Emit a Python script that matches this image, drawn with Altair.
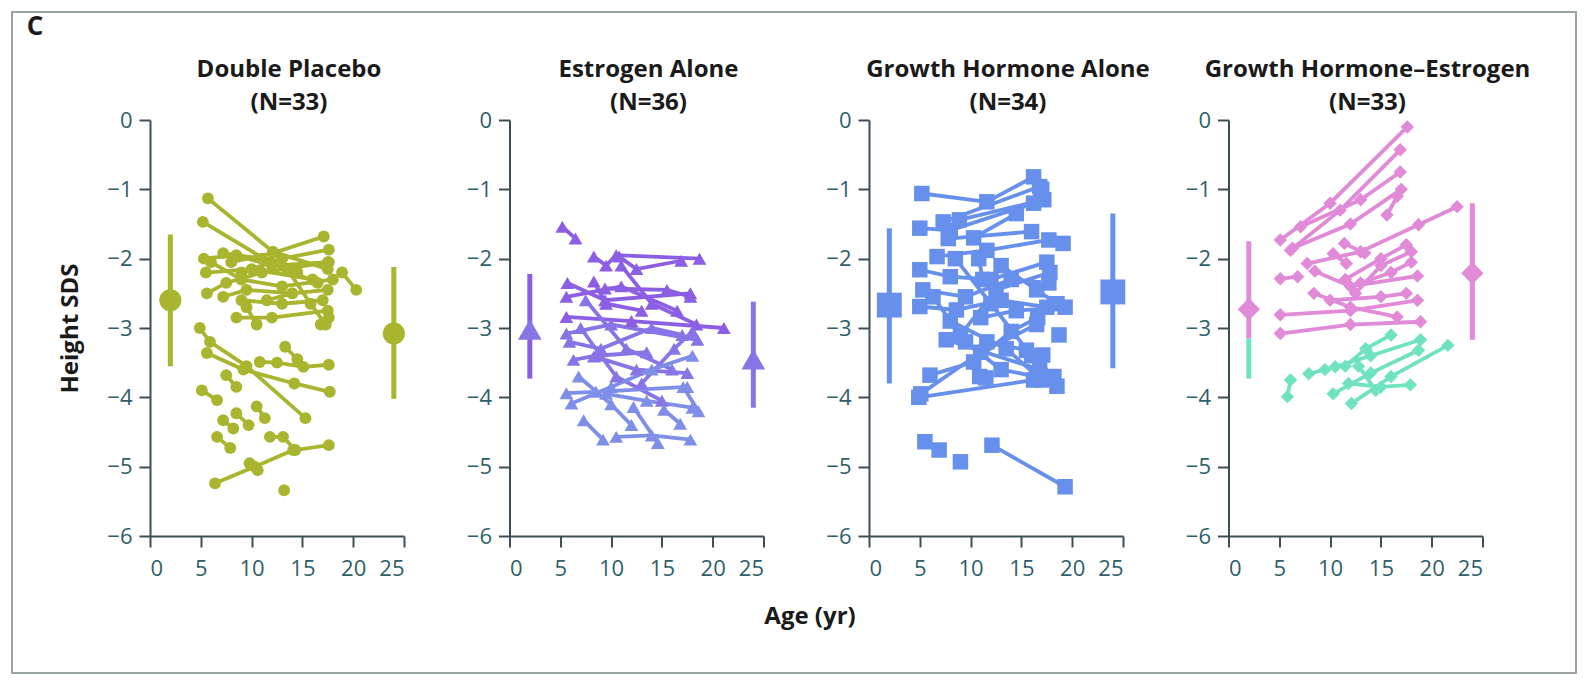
import altair as alt
import pandas as pd

FONT = "Open Sans"

# ---------------- data (age in years, height SDS) ----------------
placebo_lines = [
    [(5.7, -1.13), (12.1, -1.9), (17.5, -2.15)],
    [(5.2, -1.47), (11.8, -2.05), (16.5, -2.35)],
    [(8.0, -2.05), (12.1, -1.92), (17.1, -1.68)],
    [(9.0, -2.2), (13.0, -2.0), (17.6, -1.87)],
    [(18.9, -2.2), (20.3, -2.45)],
    [(5.3, -2.0), (8.5, -1.95), (12.0, -2.1), (17.5, -2.05)],
    [(5.5, -2.2), (10.0, -2.15), (16.0, -2.3)],
    [(5.6, -2.5), (7.5, -2.35), (11.0, -2.2), (17.6, -2.05)],
    [(6.0, -2.05), (9.0, -2.3), (13.0, -2.4), (18.0, -2.3)],
    [(7.2, -1.92), (11.0, -2.0), (14.5, -2.2)],
    [(8.5, -2.85), (12.0, -2.85), (17.5, -2.75)],
    [(9.0, -2.6), (13.0, -2.65), (17.0, -2.6)],
    [(7.2, -2.55), (9.5, -2.45), (14.0, -2.5)],
    [(11.5, -2.6), (14.0, -2.5), (17.5, -2.45)],
    [(16.8, -2.95), (17.6, -2.85)],
    [(9.5, -2.7), (10.5, -2.95)],
    [(13.5, -2.15), (15.8, -2.65), (17.3, -2.95)],
    [(4.9, -3.0), (5.9, -3.2), (9.5, -3.55), (15.3, -4.3)],
    [(5.6, -3.36), (9.2, -3.6), (14.2, -3.8), (17.7, -3.92)],
    [(10.8, -3.49), (12.5, -3.5), (15.1, -3.56), (17.6, -3.53)],
    [(13.3, -3.27), (14.5, -3.45)],
    [(7.5, -3.68), (8.5, -3.85)],
    [(5.1, -3.9), (6.6, -4.04)],
    [(7.2, -4.33), (8.2, -4.45)],
    [(8.5, -4.23), (9.7, -4.4)],
    [(10.5, -4.13), (11.3, -4.3)],
    [(6.6, -4.57), (7.9, -4.73)],
    [(11.8, -4.57), (13.1, -4.57), (14.3, -4.76), (17.6, -4.69)],
    [(6.4, -5.24), (10.3, -5.0), (14.1, -4.76)],
    [(13.2, -5.34)],
    [(9.8, -4.95), (10.6, -5.05)],
]

estrogen_lines = [
    [(5.2, -1.54), (6.5, -1.71)],
    [(8.3, -1.97), (9.5, -2.1), (10.5, -1.95), (18.7, -2.0)],
    [(10.8, -1.97), (12.5, -2.15), (16.9, -2.03)],
    [(5.7, -2.35), (9.4, -2.6), (17.8, -2.5)],
    [(8.3, -2.33), (9.5, -2.65), (13.0, -2.75)],
    [(9.4, -2.43), (15.5, -2.45), (17.8, -2.55)],
    [(5.6, -2.55), (11.0, -2.4), (16.5, -2.75)],
    [(5.6, -2.84), (12.0, -2.9), (21.1, -3.0)],
    [(5.6, -3.08), (10.0, -2.95), (18.5, -3.17)],
    [(5.9, -3.2), (9.0, -3.3), (14.0, -3.0), (17.0, -3.1)],
    [(11.0, -2.1), (14.0, -2.65), (18.4, -2.95)],
    [(7.5, -2.6), (11.5, -3.3), (16.0, -3.6)],
    [(6.3, -3.46), (8.5, -3.4), (13.5, -3.35)],
    [(8.3, -3.41), (12.5, -3.6), (17.5, -3.65)],
    [(7.0, -3.0), (10.5, -3.7), (15.0, -4.05)],
    [(13.0, -3.8), (16.2, -3.3), (18.0, -3.05)],
    [(5.6, -3.94), (8.5, -3.92), (17.5, -3.85)],
    [(6.1, -4.09), (10.0, -3.85), (14.0, -3.6), (18.0, -3.4)],
    [(9.5, -3.95), (13.5, -4.05), (18.0, -4.15)],
    [(6.8, -3.7), (10.0, -4.1), (12.0, -4.4)],
    [(17.1, -3.85), (18.6, -4.2)],
    [(7.3, -4.33), (9.2, -4.61)],
    [(10.5, -4.57), (14.0, -4.55), (17.8, -4.61)],
    [(12.2, -4.14), (14.6, -4.66)],
    [(15.2, -4.18), (16.8, -4.38)],
]
estrogen_tone = [0, 0, 0, 0, 0, 0, 0, 0, 1, 1, 0, 1, 1, 1, 1, 1, 2, 2, 2, 2, 2, 2, 2, 2, 2]

gh_lines = [
    [(5.2, -1.06), (11.6, -1.18), (16.2, -0.82)],
    [(5.0, -1.56), (8.0, -1.59), (16.2, -1.2)],
    [(7.3, -1.47), (16.8, -0.96)],
    [(8.9, -1.44), (17.2, -1.15)],
    [(7.8, -1.71), (16.0, -1.61)],
    [(10.3, -1.7), (14.5, -1.35), (17.0, -1.0)],
    [(6.7, -1.97), (11.6, -1.88), (17.7, -1.73), (19.1, -1.78)],
    [(5.0, -2.16), (8.0, -2.26), (12.0, -2.3), (17.5, -2.05)],
    [(10.8, -2.0), (11.2, -2.3)],
    [(5.3, -2.45), (9.5, -2.55), (14.0, -2.3), (17.7, -2.35)],
    [(5.0, -2.69), (8.6, -2.74), (13.0, -2.6), (17.5, -2.7)],
    [(13.0, -2.1), (16.5, -2.45), (18.5, -2.65)],
    [(8.5, -2.0), (12.0, -2.65), (16.0, -3.4), (18.2, -3.7)],
    [(11.0, -2.85), (14.5, -2.75), (19.3, -2.7)],
    [(9.0, -3.1), (12.5, -2.45), (17.8, -2.2)],
    [(8.0, -2.9), (13.5, -3.3), (17.0, -3.75)],
    [(6.3, -2.55), (9.5, -3.2), (13.0, -3.6), (16.5, -3.7)],
    [(7.6, -3.17), (16.8, -3.6)],
    [(11.6, -3.2), (15.5, -3.32)],
    [(6.0, -3.68), (10.3, -3.49), (14.0, -3.05), (16.6, -2.85)],
    [(4.9, -4.0), (16.2, -3.75), (18.5, -3.84)],
    [(5.1, -3.95), (11.0, -3.35), (16.5, -2.95)],
    [(10.9, -3.7), (11.5, -3.72)],
    [(17.1, -3.39)],
    [(18.7, -3.1)],
    [(5.5, -4.64), (6.9, -4.76)],
    [(9.0, -4.93)],
    [(12.1, -4.69), (19.3, -5.29)],
]

ghe_pink_lines = [
    [(5.1, -1.73), (10.0, -1.2), (17.6, -0.1)],
    [(6.1, -1.88), (11.0, -1.3), (16.9, -0.43)],
    [(7.1, -1.54), (13.0, -1.15), (16.9, -0.75)],
    [(6.3, -1.85), (12.0, -1.5), (17.0, -1.0)],
    [(15.6, -1.37), (16.6, -1.1)],
    [(7.75, -2.07), (13.0, -1.9), (18.7, -1.51), (22.5, -1.25)],
    [(11.4, -1.78), (13.4, -1.92)],
    [(5.1, -2.29), (6.8, -2.26)],
    [(10.3, -1.93), (11.6, -2.07)],
    [(8.5, -2.18), (12.0, -2.4), (18.6, -2.25)],
    [(11.5, -2.3), (15.0, -2.0), (17.5, -1.8)],
    [(13.0, -2.35), (16.0, -2.2), (18.0, -2.05)],
    [(12.5, -2.5), (15.0, -2.1), (18.0, -1.9)],
    [(8.4, -2.5), (12.0, -2.7), (16.6, -2.84)],
    [(10.0, -2.6), (15.0, -2.55), (17.5, -2.5)],
    [(5.1, -2.81), (12.0, -2.75), (18.6, -2.6)],
    [(5.1, -3.08), (12.0, -2.95), (18.9, -2.91)],
]
ghe_aqua_lines = [
    [(5.8, -3.99), (6.1, -3.75)],
    [(7.9, -3.66), (9.5, -3.6)],
    [(10.5, -3.56), (14.0, -3.4), (18.9, -3.17)],
    [(10.3, -3.95), (14.0, -3.65), (18.7, -3.32)],
    [(12.1, -4.09), (16.0, -3.7), (21.6, -3.25)],
    [(11.8, -3.8), (15.0, -3.85), (17.9, -3.82)],
    [(12.8, -3.55), (14.5, -3.9)],
    [(11.5, -3.55), (13.5, -3.3), (16.0, -3.1)],
]

# group means (age, mean SDS) and SD bars (age, low, high)
placebo_mean = [(2, -2.6), (24, -3.08)]
placebo_sd = [(2, -3.55, -1.65), (24, -4.02, -2.12)]
estrogen_mean = [(2, -3.02), (24, -3.45)]
estrogen_sd = [(2, -3.73, -2.22), (24, -4.15, -2.62)]
gh_mean = [(2, -2.67), (24, -2.48)]
gh_sd = [(2, -3.8, -1.56), (24, -3.58, -1.35)]
ghe_mean = [(2, -2.73), (24, -2.21)]
ghe_sd = [(2, -3.15, -1.75), (2, -3.73, -3.15), (24, -3.17, -1.2)]

titles = [
    ["Double Placebo", "(N=33)"],
    ["Estrogen Alone", "(N=36)"],
    ["Growth Hormone Alone", "(N=34)"],
    ["Growth Hormone\u2013Estrogen", "(N=33)"],
]
x_ticks = [0, 5, 10, 15, 20, 25]
y_ticks = [0, -1, -2, -3, -4, -5, -6]

# ---------------- styling ----------------
OLIVE = "#a9b52e"
PURPLES = ["#8b5ee3", "#8874e6", "#7f8fe8"]
BLUE = "#6790ec"
PINK = "#e08ad8"
AQUA = "#6fe3bf"
AX = "#3d4f55"
LAB = "#2f5f68"
TXT = "#1a1a1a"
W, H = 254, 416


def lines_df(lines, colors):
    rows = []
    for i, (pts, c) in enumerate(zip(lines, colors)):
        for k, (a, s) in enumerate(pts):
            rows.append({"id": i, "k": k, "age": a, "sds": s, "color": c})
    return pd.DataFrame(rows)


def mean_df(means, color):
    return pd.DataFrame([{"age": a, "sds": m, "color": color} for a, m in means])


def sd_df(sds, colors):
    return pd.DataFrame([{"age": a, "lo": lo, "hi": hi, "color": c}
                         for (a, lo, hi), c in zip(sds, colors)])


def panel(ldf, mdf, sdf, shape, size, msize, title, ytitle=None, xtitle=None):
    xax = dict(values=x_ticks, grid=False, labelPadding=11)
    if xtitle:
        xax.update(title=xtitle, titleX=300, titleY=80, titleBaseline="middle",
                   titleAlign="center", titleFont=FONT, titleFontSize=24,
                   titleFontWeight="bold", titleColor=TXT)
    else:
        xax.update(title=None)
    yax = dict(values=y_ticks, grid=False, format="d", labelPadding=7)
    if ytitle:
        yax.update(title=ytitle, titleFont=FONT, titleFontSize=24,
                   titleFontWeight="bold", titleColor=TXT, titlePadding=24)
    else:
        yax.update(title=None)
    x = alt.X("age:Q", scale=alt.Scale(domain=[0, 25], nice=False, zero=False),
              axis=alt.Axis(**xax))
    y = alt.Y("sds:Q", scale=alt.Scale(domain=[-6, 0], nice=False, zero=False),
              axis=alt.Axis(**yax))
    col = alt.Color("color:N", scale=None)
    base = alt.Chart(ldf)
    ln = base.mark_line(strokeWidth=3.8, strokeCap="round").encode(
        x=x, y=y, detail="id:N", order="k:Q", color=col)
    pt = base.mark_point(filled=True, shape=shape, size=size, opacity=1).encode(
        x="age:Q", y="sds:Q", color=col)
    bars = alt.Chart(sdf).mark_rule(strokeWidth=5).encode(
        x="age:Q", y="lo:Q", y2="hi:Q", color=col)
    mp = alt.Chart(mdf).mark_point(filled=True, shape=shape, size=msize, opacity=1).encode(
        x="age:Q", y="sds:Q", color=col)
    tdf = pd.DataFrame({"t": [0]})
    t1 = alt.Chart(tdf).mark_text(text=title[0], font=FONT, fontSize=24, fontWeight="bold",
                                  color=TXT, align="center", baseline="middle").encode(
        x=alt.value(W / 2 + 12), y=alt.value(-50))
    t2 = alt.Chart(tdf).mark_text(text=title[1], font=FONT, fontSize=24, fontWeight="bold",
                                  color=TXT, align="center", baseline="middle").encode(
        x=alt.value(W / 2 + 12), y=alt.value(-17))
    return alt.layer(ln, pt, bars, mp, t1, t2).properties(width=W, height=H)


p1 = panel(lines_df(placebo_lines, [OLIVE] * len(placebo_lines)),
           mean_df(placebo_mean, OLIVE), sd_df(placebo_sd, [OLIVE, OLIVE]),
           "circle", 140, 490, titles[0], ytitle="Height SDS")
frame = alt.Chart(pd.DataFrame({"a": [0]})).mark_rect(
    fillOpacity=0, stroke="#9aa3a3", strokeWidth=2).encode(
    x=alt.value(-138), x2=alt.value(1426), y=alt.value(-108), y2=alt.value(553))
letter = alt.Chart(pd.DataFrame({"a": [0]})).mark_text(
    text="C", font=FONT, fontSize=26, fontWeight="bold", color=TXT,
    align="center", baseline="middle").encode(x=alt.value(-115), y=alt.value(-93))
p1 = alt.layer(p1, frame, letter)

p2 = panel(lines_df(estrogen_lines, [PURPLES[t] for t in estrogen_tone]),
           mean_df(estrogen_mean, PURPLES[1]), sd_df(estrogen_sd, [PURPLES[0], PURPLES[1]]),
           "triangle-up", 190, 560, titles[1], xtitle="Age (yr)")
p3 = panel(lines_df(gh_lines, [BLUE] * len(gh_lines)),
           mean_df(gh_mean, BLUE), sd_df(gh_sd, [BLUE, BLUE]),
           "square", 240, 620, titles[2])
p4 = panel(lines_df(ghe_pink_lines + ghe_aqua_lines,
                    [PINK] * len(ghe_pink_lines) + [AQUA] * len(ghe_aqua_lines)),
           mean_df(ghe_mean, PINK), sd_df(ghe_sd, [PINK, AQUA, PINK]),
           "diamond", 180, 500, titles[3])

chart = alt.hconcat(p1, p2, p3, p4, spacing=105.5, bounds="flush").properties(
    padding={"left": 3, "top": 3, "right": 0, "bottom": 0}
).configure_view(stroke=None).configure_axis(
    labelFont=FONT, labelFontSize=22, labelColor=LAB,
    domainColor=AX, domainWidth=2, tickColor=AX, tickWidth=2, tickSize=11,
)

chart.save("out.html", embed_options={"renderer": "svg", "actions": False})
